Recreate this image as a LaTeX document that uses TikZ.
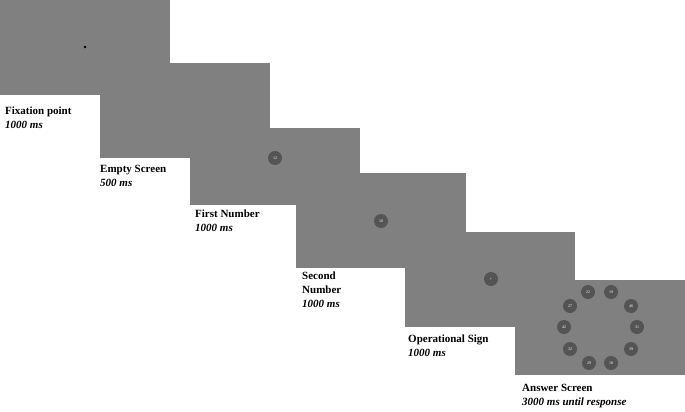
\documentclass[tikz,border=0pt]{standalone}
\usepackage{fontspec}
\setmainfont{Liberation Serif}
\begin{document}
\begin{tikzpicture}[x=1pt,y=-1pt,
  scr/.style={fill=gray!100!white,fill=black!50,draw=none},
  num/.style={circle,fill=black!67,minimum size=14pt,inner sep=0pt,text=white,font=\fontsize{4}{4}\selectfont},
  lab/.style={anchor=north west,align=left,inner sep=0pt,font=\fontsize{11}{14}\selectfont\bfseries}]
\useasboundingbox (0,0) rectangle (685,412);
\fill[black!50] (0,0) rectangle (170,95);
\fill[black!50] (100,63) rectangle (270,158);
\fill[black!50] (190,128) rectangle (360,205);
\fill[black!50] (296,173) rectangle (466,268);
\fill[black!50] (405,232) rectangle (575,327);
\fill[black!50] (515,280) rectangle (685,375);
\fill[black] (85,47) circle (1.3);
\node[num] (n1) at (275,158) {12};
\node[num] (n2) at (381,221) {10};
\node[num] (n3) at (491,279) {+};
\node[num] (a1) at (588,292) {22};
\node[num] (a2) at (611,292) {19};
\node[num] (a3) at (570,306) {27};
\node[num] (a4) at (631,306) {46};
\node[num] (a5) at (564,327) {42};
\node[num] (a6) at (637,327) {31};
\node[num] (a7) at (570,349) {32};
\node[num] (a8) at (631,349) {39};
\node[num] (a9) at (589,363) {29};
\node[num] (a10) at (611,363) {18};
\node[lab] (l1) at (5,107) {Fixation point\\\itshape 1000 ms};
\node[lab] (l2) at (100,165) {Empty Screen\\\itshape 500 ms};
\node[lab] (l3) at (195,210) {First Number\\\itshape 1000 ms};
\node[lab] (l4) at (302,272) {Second\\Number\\\itshape 1000 ms};
\node[lab] (l5) at (408,335) {Operational Sign\\\itshape 1000 ms};
\node[lab] (l6) at (522,384) {Answer Screen\\\itshape 3000 ms until response};
\end{tikzpicture}
\end{document}
